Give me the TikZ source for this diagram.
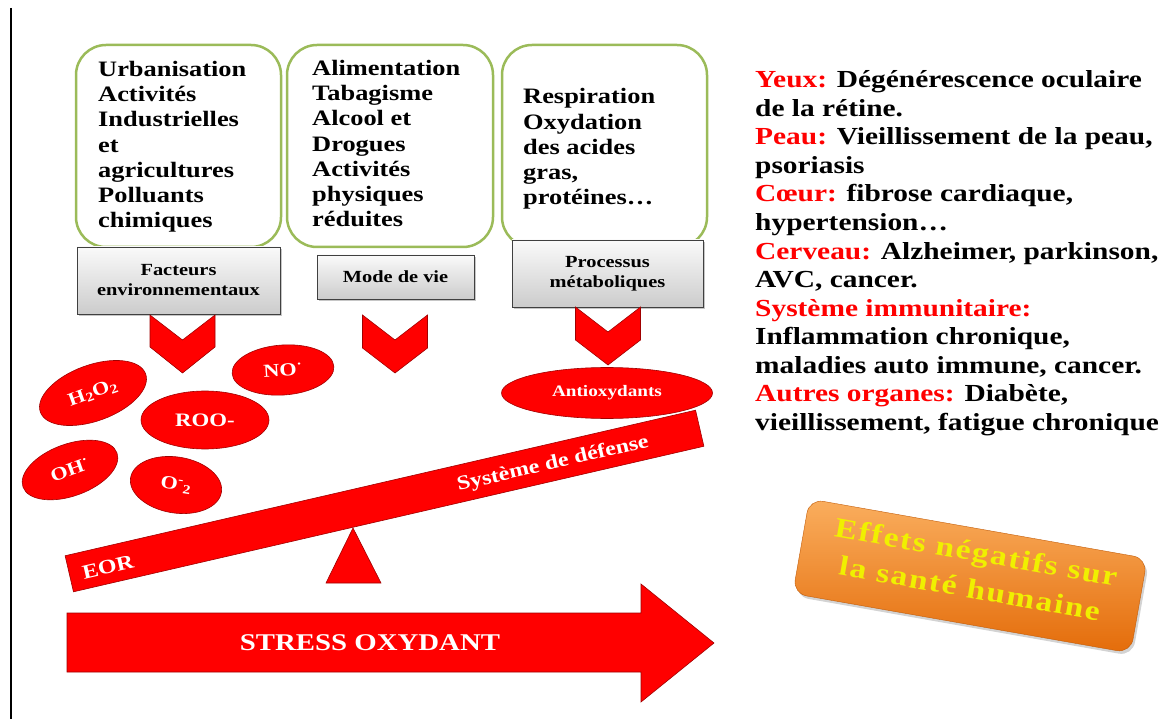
\documentclass[tikz,border=0pt]{standalone}
\usepackage{fontspec}
\setmainfont[FakeStretch=1.2]{Liberation Serif}
\usetikzlibrary{shapes.geometric, shadows, positioning}
\definecolor{boxgreen}{HTML}{9BBB59}
\definecolor{beamred}{HTML}{FF0000}
\definecolor{edgered}{HTML}{A00000}
\definecolor{orangetop}{HTML}{FAAE5E}
\definecolor{orangebot}{HTML}{E46C0A}
\definecolor{effyellow}{HTML}{F0F000}
\newcommand\rouge[1]{\textcolor{beamred}{#1}}
\tikzset{
  source/.style={draw=boxgreen, line width=2.5pt, rounded corners=30pt, minimum height=202pt},
  srctext/.style={align=left, inner sep=0pt, anchor=base west, font=\fontsize{22}{25.3}\selectfont\bfseries},
  labelbox/.style={draw=black!75, top color=gray!4, bottom color=gray!40, align=center,
    drop shadow={shadow xshift=2pt, shadow yshift=-2pt, opacity=.45},
    font=\fontsize{17}{20}\selectfont\bfseries},
  redshape/.style={fill=beamred, draw=edgered, line width=0.6pt},
  radical/.style={ellipse, redshape, text=white, inner sep=0pt, font=\fontsize{18.5}{20}\selectfont\bfseries},
  beamtext/.style={text=white, inner sep=0pt, rotate=13, font=\fontsize{20}{22}\selectfont\bfseries},
}
\begin{document}
\begin{tikzpicture}[x=1pt, y=-1pt]
\useasboundingbox (0,0) rectangle (1169,719);
\draw[line width=1.2pt] (11,8) -- (11,719);

% sources of stress
\node[source, minimum width=205pt] (envsrc) at (178.5,146) {};
\node[source, minimum width=206pt] (viesrc) at (390,146) {};
\node[source, minimum width=205pt] (metasrc) at (604.5,146) {};
% anchored on the last line
\node[srctext] (envtxt) at (98,228) {Urbanisation\\Activités\\Industrielles\\et\\agricultures\\Polluants\\chimiques};
\node[srctext] (vietxt) at (312,227) {Alimentation\\Tabagisme\\Alcool et\\Drogues\\Activités\\physiques\\réduites};
\node[srctext] (metatxt) at (523,205) {Respiration\\Oxydation\\des acides\\gras,\\protéines…};

\node[labelbox, minimum width=203pt, minimum height=67pt] (envlab) at (178.5,280.5) {Facteurs\\environnementaux};
\node[labelbox, minimum width=157pt, minimum height=44pt] (vielab) at (395.5,277) {Mode de vie};
\node[labelbox, minimum width=191pt, minimum height=67pt] (metalab) at (607.5,273.5) {Processus\\métaboliques};

% chevrons
\foreach \cx/\ct/\cn/\cs/\cp in {182.5/315/340/347/373, 395/315/340/348/373, 608/307/332/340/365}
  \draw[redshape] (\cx-32.5,\ct) -- (\cx,\cn) -- (\cx+32.5,\ct) -- (\cx+32.5,\cs) -- (\cx,\cp) -- (\cx-32.5,\cs) -- cycle;

% radicals
\node[radical, rotate=20, minimum width=112pt, minimum height=56pt] (hoo) at (93,393) {H\textsubscript{2}O\textsubscript{2}};
\node[radical, minimum width=128pt, minimum height=58pt, font=\fontsize{19}{20}\selectfont\bfseries] (roo) at (205,420) {ROO-};
\node[radical, rotate=4, minimum width=102pt, minimum height=50pt] (no) at (283,370) {NO\textsuperscript{·}};
\node[radical, rotate=20, minimum width=100pt, minimum height=52pt] (oh) at (70,470) {OH\textsuperscript{·}};
\node[radical, rotate=-9, minimum width=92pt, minimum height=56pt] (superox) at (176,485) {O\textsuperscript{-}\textsubscript{2}};
\node[radical, minimum width=211pt, minimum height=51pt, font=\fontsize{16}{18}\selectfont\bfseries] (antiox) at (607,393) {Antioxydants};

% balance
\draw[redshape] (353,528) -- (381,583) -- (326,583) -- cycle;
\node[redshape, rotate=13, minimum width=647pt, minimum height=37pt, inner sep=0pt] (beam) at (384.5,501) {};
\node[beamtext] (eor) at (108,567) {EOR};
\node[beamtext] (defense) at (553,464) {Système de défense};

% stress arrow
\draw[redshape] (67,613) -- (641,613) -- (641,584) -- (714,643) -- (641,702) -- (641,672) -- (67,672) -- cycle;
\node[text=white, font=\fontsize{24}{26}\selectfont\bfseries] (stress) at (370,643) {STRESS OXYDANT};

% effects on the organs
\foreach \txt [count=\i] in {{\rouge{Yeux:} Dégénérescence oculaire}, {de la rétine.},
  {\rouge{Peau:} Vieillissement de la peau,}, {psoriasis},
  {\rouge{Cœur:} fibrose cardiaque,}, {hypertension…},
  {\rouge{Cerveau:} Alzheimer, parkinson,}, {AVC, cancer.},
  {\rouge{Système immunitaire:}}, {Inflammation chronique,},
  {maladies auto immune, cancer.}, {\rouge{Autres organes:} Diabète,},
  {vieillissement, fatigue chronique}}
  \node[anchor=base west, inner sep=0pt, font=\fontsize{24.5}{28}\selectfont\bfseries] (eff\i) at (755,88+28.5*\i-28.5) {\txt};

\node[rounded corners=14pt, rotate=-10, minimum width=343pt, minimum height=96pt,
  top color=orangetop, bottom color=orangebot, draw=orangebot!85!black,
  drop shadow={shadow xshift=2pt, shadow yshift=-3pt, opacity=.35}] (effets) at (970,576) {};
\node[rotate=-10, text=effyellow, align=center,
  font=\fontsize{28}{37}\selectfont\bfseries\addfontfeature{LetterSpace=6}] (effetstxt) at (973,570) {Effets négatifs sur\\la santé humaine};
\end{tikzpicture}
\end{document}
